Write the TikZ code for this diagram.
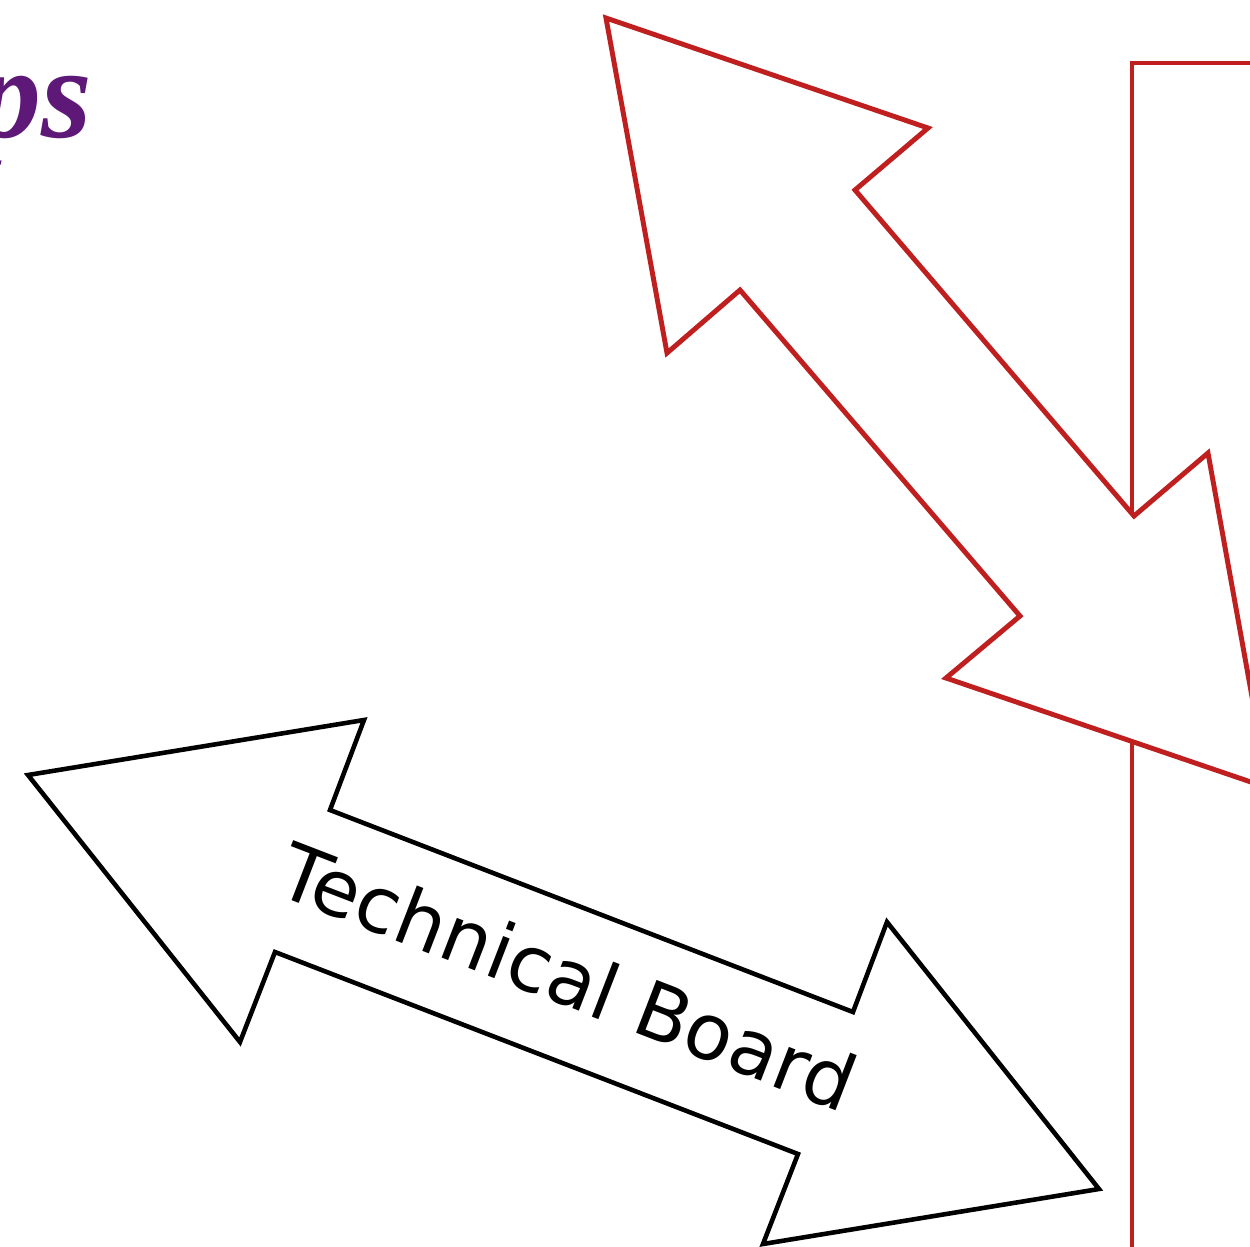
\documentclass[tikz,border=0pt]{standalone}
\usepackage{fontspec}
\setmainfont{Liberation Serif}
\newfontfamily\boardfont{DejaVu Sans}
\usepackage{xcolor}
\definecolor{arrowRed}   {HTML}{C01F1F}
\definecolor{titlePurple}{HTML}{5E1878}
\usetikzlibrary{positioning, calc}
\tikzset{
  redarrow/.style   = {draw=arrowRed, line width=1.4pt, fill=white, line join=miter},
  blackarrow/.style = {draw=black, line width=1.3pt, fill=white, line join=miter},
  boxline/.style    = {draw=arrowRed, line width=1.4pt},
}

\begin{document}
\begin{tikzpicture}[x=0.01cm, y=-0.01cm]
    % Frame of the picture (pixel grid, y down).
    \useasboundingbox (0,0) rectangle (1250,1247);
    \clip (0,0) rectangle (1250,1247);

    % --- Title, cut at the left edge ---
    \node[anchor=base east, inner sep=0pt, text=titlePurple,
          font=\fontsize{37}{44}\selectfont\bfseries\itshape] (title) at (93,137) {ps};

    % --- Red box behind the arrow ---
    \draw[boxline] (1132,1400) -- (1132,63) -- (1400,63);

    % --- Red double arrow ---
    \coordinate (r1)  at (606,18);    % upper tip
    \coordinate (r2)  at (928,128);
    \coordinate (r3)  at (855,190);
    \coordinate (r4)  at (1134,516);
    \coordinate (r5)  at (1208,453);
    \coordinate (r6)  at (1268.5,788); % lower tip
    \coordinate (r7)  at (946,678);
    \coordinate (r8)  at (1020,616);
    \coordinate (r9)  at (740,290);
    \coordinate (r10) at (667,353);
    \draw[redarrow] (r1) -- (r2) -- (r3) -- (r4) -- (r5) -- (r6)
        -- (r7) -- (r8) -- (r9) -- (r10) -- cycle;

    % --- Black double arrow with its label ---
    \coordinate (b1)  at (28,775);    % left tip
    \coordinate (b2)  at (364,720);
    \coordinate (b3)  at (330,810);
    \coordinate (b4)  at (853,1012);
    \coordinate (b5)  at (887,922);
    \coordinate (b6)  at (1099,1189); % right tip
    \coordinate (b7)  at (763,1244);
    \coordinate (b8)  at (798,1154);
    \coordinate (b9)  at (275,952);
    \coordinate (b10) at (240,1042);
    \draw[blackarrow] (b1) -- (b2) -- (b3) -- (b4) -- (b5) -- (b6)
        -- (b7) -- (b8) -- (b9) -- (b10) -- cycle;
    \node[rotate=-21.1, inner sep=0pt, font=\boardfont\fontsize{22.1}{26}\selectfont]
        (board) at ($(b3)!0.5!(b8)+(4,-6)$) {Technical Board};
\end{tikzpicture}
\end{document}
